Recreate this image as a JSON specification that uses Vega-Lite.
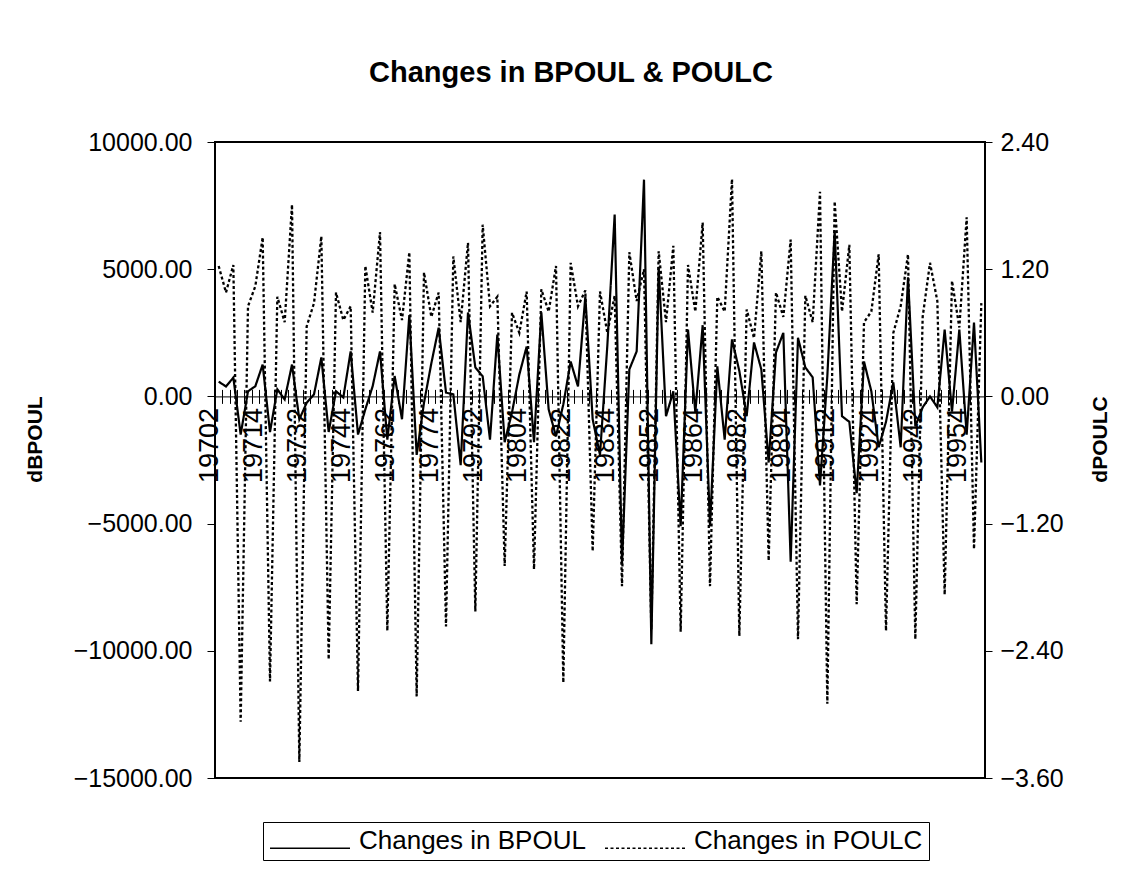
{
  "$schema": "https://vega.github.io/schema/vega-lite/v6.json",
  "width": 770,
  "height": 636,
  "autosize": {"type": "none"},
  "padding": {"left": 215, "top": 142, "right": 149, "bottom": 97},
  "background": "white",
  "title": {
    "text": "Changes in BPOUL & POULC",
    "font": "Liberation Sans",
    "fontSize": 29,
    "fontWeight": "bold",
    "color": "black",
    "anchor": "middle",
    "dx": -29,
    "offset": 42
  },
  "data": {
    "values": [
      {"period": "19702", "Changes in BPOUL": 580, "Changes in POULC": 1.23},
      {"period": "19703", "Changes in BPOUL": 390, "Changes in POULC": 0.98},
      {"period": "19704", "Changes in BPOUL": 740, "Changes in POULC": 1.24},
      {"period": "19711", "Changes in BPOUL": -1500, "Changes in POULC": -3.07},
      {"period": "19712", "Changes in BPOUL": 200, "Changes in POULC": 0.85},
      {"period": "19713", "Changes in BPOUL": 400, "Changes in POULC": 1.04},
      {"period": "19714", "Changes in BPOUL": 1250, "Changes in POULC": 1.5},
      {"period": "19721", "Changes in BPOUL": -1400, "Changes in POULC": -2.69},
      {"period": "19722", "Changes in BPOUL": 280, "Changes in POULC": 0.94},
      {"period": "19723", "Changes in BPOUL": -120, "Changes in POULC": 0.7},
      {"period": "19724", "Changes in BPOUL": 1250, "Changes in POULC": 1.81},
      {"period": "19731", "Changes in BPOUL": -900, "Changes in POULC": -3.45},
      {"period": "19732", "Changes in BPOUL": -250, "Changes in POULC": 0.66},
      {"period": "19733", "Changes in BPOUL": 80, "Changes in POULC": 0.88},
      {"period": "19734", "Changes in BPOUL": 1530, "Changes in POULC": 1.51},
      {"period": "19741", "Changes in BPOUL": -1400, "Changes in POULC": -2.48},
      {"period": "19742", "Changes in BPOUL": 200, "Changes in POULC": 0.98},
      {"period": "19743", "Changes in BPOUL": -40, "Changes in POULC": 0.72},
      {"period": "19744", "Changes in BPOUL": 1770, "Changes in POULC": 0.85},
      {"period": "19751", "Changes in BPOUL": -1500, "Changes in POULC": -2.78},
      {"period": "19752", "Changes in BPOUL": -510, "Changes in POULC": 1.23},
      {"period": "19753", "Changes in BPOUL": 400, "Changes in POULC": 0.79},
      {"period": "19754", "Changes in BPOUL": 1770, "Changes in POULC": 1.55},
      {"period": "19761", "Changes in BPOUL": -1700, "Changes in POULC": -2.21},
      {"period": "19762", "Changes in BPOUL": 800, "Changes in POULC": 1.06},
      {"period": "19763", "Changes in BPOUL": -900, "Changes in POULC": 0.72},
      {"period": "19764", "Changes in BPOUL": 3200, "Changes in POULC": 1.36},
      {"period": "19771", "Changes in BPOUL": -2300, "Changes in POULC": -2.83},
      {"period": "19772", "Changes in BPOUL": -250, "Changes in POULC": 1.17},
      {"period": "19773", "Changes in BPOUL": 1300, "Changes in POULC": 0.75},
      {"period": "19774", "Changes in BPOUL": 2700, "Changes in POULC": 0.98},
      {"period": "19781", "Changes in BPOUL": 150, "Changes in POULC": -2.17},
      {"period": "19782", "Changes in BPOUL": 80, "Changes in POULC": 1.32},
      {"period": "19783", "Changes in BPOUL": -2700, "Changes in POULC": 0.7},
      {"period": "19784", "Changes in BPOUL": 3300, "Changes in POULC": 1.45},
      {"period": "19791", "Changes in BPOUL": 1140, "Changes in POULC": -2.03},
      {"period": "19792", "Changes in BPOUL": 790, "Changes in POULC": 1.62},
      {"period": "19793", "Changes in BPOUL": -1700, "Changes in POULC": 0.85},
      {"period": "19794", "Changes in BPOUL": 2430, "Changes in POULC": 0.94},
      {"period": "19801", "Changes in BPOUL": -1800, "Changes in POULC": -1.6},
      {"period": "19802", "Changes in BPOUL": -630, "Changes in POULC": 0.79},
      {"period": "19803", "Changes in BPOUL": 860, "Changes in POULC": 0.6},
      {"period": "19804", "Changes in BPOUL": 1960, "Changes in POULC": 0.99},
      {"period": "19811", "Changes in BPOUL": -1800, "Changes in POULC": -1.63},
      {"period": "19812", "Changes in BPOUL": 3300, "Changes in POULC": 1.01},
      {"period": "19813", "Changes in BPOUL": -510, "Changes in POULC": 0.8},
      {"period": "19814", "Changes in BPOUL": -1570, "Changes in POULC": 1.23},
      {"period": "19821", "Changes in BPOUL": -310, "Changes in POULC": -2.7},
      {"period": "19822", "Changes in BPOUL": 1370, "Changes in POULC": 1.26},
      {"period": "19823", "Changes in BPOUL": 390, "Changes in POULC": 0.85},
      {"period": "19824", "Changes in BPOUL": 3930, "Changes in POULC": 1.0},
      {"period": "19831", "Changes in BPOUL": -900, "Changes in POULC": -1.46},
      {"period": "19832", "Changes in BPOUL": -2300, "Changes in POULC": 0.99},
      {"period": "19833", "Changes in BPOUL": 2000, "Changes in POULC": 0.6},
      {"period": "19834", "Changes in BPOUL": 7150, "Changes in POULC": 0.95},
      {"period": "19841", "Changes in BPOUL": -6600, "Changes in POULC": -1.79},
      {"period": "19842", "Changes in BPOUL": 1060, "Changes in POULC": 1.36},
      {"period": "19843", "Changes in BPOUL": 1770, "Changes in POULC": 0.9},
      {"period": "19844", "Changes in BPOUL": 8520, "Changes in POULC": 1.2},
      {"period": "19851", "Changes in BPOUL": -9740, "Changes in POULC": -2.2},
      {"period": "19852", "Changes in BPOUL": 5100, "Changes in POULC": 1.37},
      {"period": "19853", "Changes in BPOUL": -780, "Changes in POULC": 0.7},
      {"period": "19854", "Changes in BPOUL": 200, "Changes in POULC": 1.42},
      {"period": "19861", "Changes in BPOUL": -5100, "Changes in POULC": -2.22},
      {"period": "19862", "Changes in BPOUL": 2630, "Changes in POULC": 1.24},
      {"period": "19863", "Changes in BPOUL": -630, "Changes in POULC": 0.8},
      {"period": "19864", "Changes in BPOUL": 2800, "Changes in POULC": 1.64},
      {"period": "19871", "Changes in BPOUL": -5100, "Changes in POULC": -1.79},
      {"period": "19872", "Changes in BPOUL": 1180, "Changes in POULC": 0.94},
      {"period": "19873", "Changes in BPOUL": -1700, "Changes in POULC": 0.8},
      {"period": "19874", "Changes in BPOUL": 2240, "Changes in POULC": 2.05},
      {"period": "19881", "Changes in BPOUL": 1000, "Changes in POULC": -2.26},
      {"period": "19882", "Changes in BPOUL": -780, "Changes in POULC": 0.82},
      {"period": "19883", "Changes in BPOUL": 2120, "Changes in POULC": 0.55},
      {"period": "19884", "Changes in BPOUL": 1060, "Changes in POULC": 1.37},
      {"period": "19891", "Changes in BPOUL": -2600, "Changes in POULC": -1.55},
      {"period": "19892", "Changes in BPOUL": 1730, "Changes in POULC": 0.98},
      {"period": "19893", "Changes in BPOUL": 2500, "Changes in POULC": 0.75},
      {"period": "19894", "Changes in BPOUL": -6500, "Changes in POULC": 1.48},
      {"period": "19901", "Changes in BPOUL": 2300, "Changes in POULC": -2.29},
      {"period": "19902", "Changes in BPOUL": 1140, "Changes in POULC": 0.95},
      {"period": "19903", "Changes in BPOUL": 750, "Changes in POULC": 0.7},
      {"period": "19904", "Changes in BPOUL": -3500, "Changes in POULC": 1.93},
      {"period": "19911", "Changes in BPOUL": 800, "Changes in POULC": -2.9},
      {"period": "19912", "Changes in BPOUL": 6500, "Changes in POULC": 1.84},
      {"period": "19913", "Changes in BPOUL": -780, "Changes in POULC": 0.8},
      {"period": "19914", "Changes in BPOUL": -1000, "Changes in POULC": 1.43},
      {"period": "19921", "Changes in BPOUL": -3800, "Changes in POULC": -1.96},
      {"period": "19922", "Changes in BPOUL": 1370, "Changes in POULC": 0.7},
      {"period": "19923", "Changes in BPOUL": 200, "Changes in POULC": 0.8},
      {"period": "19924", "Changes in BPOUL": -2000, "Changes in POULC": 1.34},
      {"period": "19931", "Changes in BPOUL": -1000, "Changes in POULC": -2.21},
      {"period": "19932", "Changes in BPOUL": 550, "Changes in POULC": 0.6},
      {"period": "19933", "Changes in BPOUL": -2000, "Changes in POULC": 0.85},
      {"period": "19934", "Changes in BPOUL": 4680, "Changes in POULC": 1.34},
      {"period": "19941", "Changes in BPOUL": -1180, "Changes in POULC": -2.29},
      {"period": "19942", "Changes in BPOUL": -430, "Changes in POULC": 0.75},
      {"period": "19943", "Changes in BPOUL": 0, "Changes in POULC": 1.26},
      {"period": "19944", "Changes in BPOUL": -430, "Changes in POULC": 0.9},
      {"period": "19951", "Changes in BPOUL": 2630, "Changes in POULC": -1.87},
      {"period": "19952", "Changes in BPOUL": -600, "Changes in POULC": 1.09},
      {"period": "19953", "Changes in BPOUL": 2630, "Changes in POULC": 0.65},
      {"period": "19954", "Changes in BPOUL": -1500, "Changes in POULC": 1.69},
      {"period": "19961", "Changes in BPOUL": 2900, "Changes in POULC": -1.44},
      {"period": "19962", "Changes in BPOUL": -2600, "Changes in POULC": 0.88}
    ]
  },
  "layer": [
    {
      "transform": [{"fold": ["Changes in BPOUL"], "as": ["series", "value"]}],
      "mark": {"type": "line", "color": "black", "strokeWidth": 2.2},
      "encoding": {
        "x": {
          "field": "period",
          "type": "ordinal",
          "bandPosition": 0.5,
          "scale": {"type": "band", "paddingInner": 0, "paddingOuter": 0},
          "axis": {
            "orient": "bottom",
            "offset": -381.6,
            "title": null,
            "grid": false,
            "domain": true,
            "domainColor": "black",
            "domainWidth": 1,
            "tickBand": "extent",
            "tickSize": 7,
            "tickColor": "black",
            "tickWidth": 1,
            "labelAngle": 270,
            "labelFontSize": 27,
            "labelColor": "black",
            "labelPadding": 4,
            "labelOffset": -9,
            "labelOverlap": false,
            "labelBound": false,
            "labelFlush": false,
            "labelExpr": "indexof(['19702','19714','19732','19744','19762','19774','19792','19804','19822','19834','19852','19864','19882','19894','19912','19924','19942','19954'], datum.value) >= 0 ? datum.value : ''"
          }
        },
        "y": {
          "field": "value",
          "type": "quantitative",
          "scale": {"domain": [-15000, 10000], "nice": false, "zero": false},
          "axis": {
            "orient": "left",
            "values": [-15000, -10000, -5000, 0, 5000, 10000],
            "format": ".2f",
            "grid": false,
            "domain": false,
            "tickSize": 8,
            "tickColor": "black",
            "labelPadding": 15,
            "labelFontSize": 25,
            "labelColor": "black",
            "title": "dBPOUL",
            "titleFontSize": 21,
            "titleFontWeight": "bold",
            "titleColor": "black",
            "titleAngle": 270,
            "titleAlign": "center",
            "titleBaseline": "middle",
            "titleX": -180,
            "titleY": 297
          }
        },
        "strokeDash": {
          "field": "series",
          "type": "nominal",
          "scale": {"domain": ["Changes in BPOUL", "Changes in POULC"], "range": [[1, 0], [3, 2.5]]},
          "legend": {
            "orient": "none",
            "legendX": 48,
            "legendY": 680,
            "direction": "horizontal",
            "columns": 2,
            "title": null,
            "labelFontSize": 26,
            "labelColor": "black",
            "labelLimit": 400,
            "symbolType": "M-3.333,0.6H3.333",
            "symbolSize": 576,
            "symbolOffset": 28,
            "symbolStrokeWidth": 1.5,
            "symbolStrokeColor": "black",
            "strokeColor": "black",
            "fillColor": "white",
            "padding": 6,
            "columnPadding": 16,
            "labelOffset": 36
          }
        }
      }
    },
    {
      "transform": [{"fold": ["Changes in POULC"], "as": ["series", "value"]}],
      "mark": {"type": "line", "color": "black", "strokeWidth": 2.3},
      "encoding": {
        "x": {
          "field": "period",
          "type": "ordinal",
          "bandPosition": 0.5,
          "scale": {"type": "band", "paddingInner": 0, "paddingOuter": 0},
          "axis": {
            "orient": "bottom",
            "offset": -381.6,
            "title": null,
            "grid": false,
            "domain": false,
            "labels": false,
            "tickBand": "extent",
            "tickSize": -7,
            "tickColor": "black",
            "tickWidth": 1
          }
        },
        "y": {
          "field": "value",
          "type": "quantitative",
          "scale": {"domain": [-3.6, 2.4], "nice": false, "zero": false},
          "axis": {
            "orient": "right",
            "values": [-3.6, -2.4, -1.2, 0, 1.2, 2.4],
            "format": ".2f",
            "grid": false,
            "domain": false,
            "tickSize": 7,
            "tickColor": "black",
            "labelPadding": 8,
            "labelFontSize": 25,
            "labelColor": "black",
            "title": "dPOULC",
            "titleFontSize": 21,
            "titleFontWeight": "bold",
            "titleColor": "black",
            "titleAngle": 270,
            "titleAlign": "center",
            "titleBaseline": "middle",
            "titleX": 115,
            "titleY": 297
          }
        },
        "strokeDash": {"field": "series", "type": "nominal"}
      }
    }
  ],
  "resolve": {"scale": {"y": "independent"}, "axis": {"x": "independent"}},
  "config": {
    "font": "Liberation Sans",
    "view": {"stroke": "black", "strokeWidth": 2}
  }
}
